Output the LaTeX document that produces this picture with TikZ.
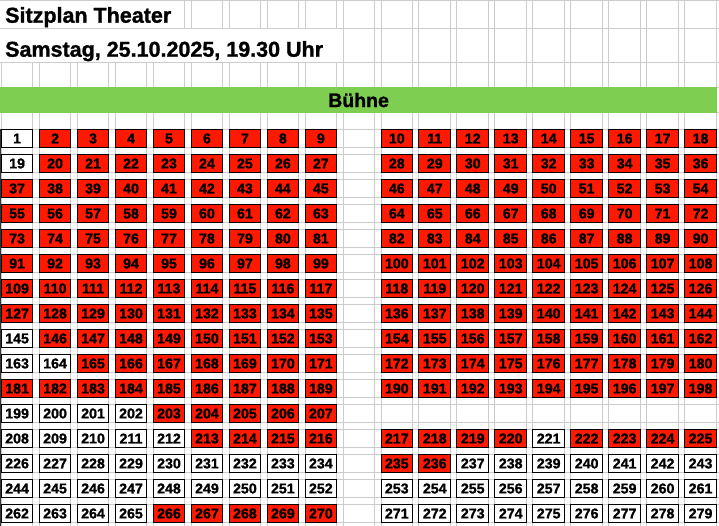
\documentclass[tikz,border=0pt]{standalone}
\usepackage{fontspec}
\setmainfont{Liberation Sans}[BoldFeatures={FakeBold=1.2}]
\definecolor{seatred}{RGB}{255,25,0}
\definecolor{stagegreen}{RGB}{126,206,82}
\definecolor{gridgray}{RGB}{204,204,204}
\newcommand\redrange[3]{\ifnum#1<#2 \else\ifnum#1>#3 \else\def\seatcol{seatred}\fi\fi}
\newcommand\seatnode[3]{%
  \def\seatcol{white}%
  \redrange{#1}{2}{18}\redrange{#1}{20}{144}\redrange{#1}{146}{162}\redrange{#1}{165}{198}%
  \redrange{#1}{203}{207}\redrange{#1}{213}{220}\redrange{#1}{222}{225}\redrange{#1}{235}{236}\redrange{#1}{266}{270}%
  \pgfmathsetmacro\sx{1.3+37.97*(#2)+15.8}%
  \pgfmathsetmacro\sy{129.5+25*(#3)+9}%
  \node[seatbox,fill=\seatcol] (s#1) at (\sx,\sy) {#1};%
}
\begin{document}
\begin{tikzpicture}[x=1pt,y=-1pt,
  gridline/.style={gridgray,line width=1pt},
  seatbox/.style={draw=black,line width=1pt,minimum width=31.6pt,minimum height=18pt,inner sep=0pt,font=\fontsize{14.2}{15}\selectfont\bfseries},
  titletext/.style={anchor=base west,inner sep=0pt,font=\fontsize{21.5}{24}\selectfont\bfseries}]
\useasboundingbox[fill=white] (0,0) rectangle (719,526);

% horizontal grid lines
\foreach \y in {0.5,28.3,62.3,87.3,112.5} \draw[gridline] (0,\y) -- (719,\y);
\foreach \k in {0,...,15} {
  \draw[gridline] (0,{129.5+25*\k}) -- (719,{129.5+25*\k});
  \draw[gridline] (0,{147.5+25*\k}) -- (719,{147.5+25*\k});
}
% vertical grid lines
\foreach \i in {0,...,18} {
  \pgfmathsetmacro\L{1.3+37.97*\i}
  \pgfmathsetmacro\R{\L+31.6}
  \draw[gridline] (\L,62.3) -- (\L,87.3) (\L,112.5) -- (\L,526);
  \draw[gridline] (\R,62.3) -- (\R,87.3) (\R,112.5) -- (\R,526);
  \ifnum\i>3 \draw[gridline] (\R,0) -- (\R,28.3);\fi
  \ifnum\i>4 \draw[gridline] (\L,0) -- (\L,28.3);\fi
  \ifnum\i>8 \draw[gridline] (\L,28.3) -- (\L,62.3) (\R,28.3) -- (\R,62.3);\fi
}

% titles
\node[titletext] (title) at (5,22.7) {Sitzplan Theater};
\node[titletext] (date) at (5,56.7) {Samstag, 25.10.2025, 19.30 Uhr};

% stage
\node[fill=stagegreen,anchor=north west,inner sep=0pt,minimum width=716.7pt,minimum height=25.2pt,
  font=\fontsize{19.5}{22}\selectfont\bfseries] (stage) at (0,87.3) {Bühne};

% left edge line
\draw[black!80,line width=1pt] (0.5,129.5) -- (0.5,526);

% seats
\foreach \k/\start/\two in {0/1/1,1/19/1,2/37/1,3/55/1,4/73/1,5/91/1,6/109/1,7/127/1,8/145/1,9/163/1,10/181/1,11/199/0,12/208/1,13/226/1,14/244/1,15/262/1} {
  \foreach \j in {0,...,8} {
    \pgfmathtruncatemacro\n{\start+\j}
    \seatnode{\n}{\j}{\k}
    \ifnum\two=1
      \pgfmathtruncatemacro\m{\start+9+\j}
      \seatnode{\m}{10+\j}{\k}
    \fi
  }
}
\end{tikzpicture}
\end{document}
